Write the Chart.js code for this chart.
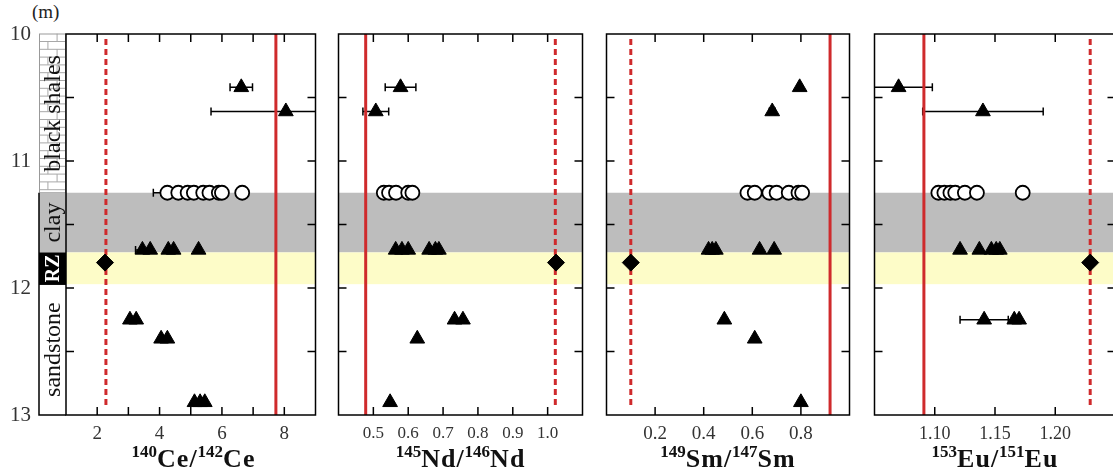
<!DOCTYPE html>
<html>
<head>
<meta charset="utf-8">
<script src="https://cdn.jsdelivr.net/npm/chart.js@4.4.1/dist/chart.umd.min.js"></script>
<style>
  body { margin: 0; background: #fff; }
  #wrap { position: relative; width: 1113px; height: 475px; overflow: hidden; background: #fff; }
  canvas { position: absolute; top: 0; }
  .xt { position: absolute; top: 446px; text-align: center; font: bold 26px "Liberation Serif", serif;
        color: #111; white-space: nowrap; line-height: 26px; letter-spacing: 1px; }
  .xt span { font-size: 17px; position: relative; top: -10px; letter-spacing: 0; }
  #unit { position: absolute; left: 32px; top: 1px; font-size: 19px; font-family: "Liberation Serif", serif; color: #222; }
</style>
</head>
<body>
<div id="wrap">
  <div id="unit">(m)</div>
  <canvas id="ce"></canvas>
  <canvas id="nd"></canvas>
  <canvas id="sm"></canvas>
  <canvas id="eu"></canvas>
  <div class="xt" id="t-ce"><span>140</span>Ce/<span>142</span>Ce</div>
  <div class="xt" id="t-nd"><span>145</span>Nd/<span>146</span>Nd</div>
  <div class="xt" id="t-sm"><span>149</span>Sm/<span>147</span>Sm</div>
  <div class="xt" id="t-eu"><span>153</span>Eu/<span>151</span>Eu</div>
</div>
<script>
const FONT = '"Liberation Serif", "Times New Roman", serif';

// lithology column, depth in m
const layerNames = ['black shales', 'clay', 'RZ', 'sandstone'];
const layerTop = [10, 11.25, 11.72, 11.97];
const layerBottom = [11.25, 11.72, 11.97, 13];
const depthLabelled = [10, 11, 12, 13];

// levels of the open circles (clay) and of the diamond (RZ)
const clayDepth = 11.25;
const rzDepth = 11.8;

// 140Ce/142Ce
const ceTriDepth = [10.42, 10.61, 11.7, 11.7, 11.7, 11.7, 11.7, 12.25, 12.25, 12.4, 12.4, 12.9, 12.9, 12.9];
const ceTriValue = [6.62, 8.05, 3.45, 3.7, 4.28, 4.45, 5.25, 3.05, 3.25, 4.05, 4.25, 5.12, 5.3, 5.45];
const ceTriErr = [0.36, 2.4, 0.22, 0, 0, 0, 0, 0, 0, 0, 0, 0, 0, 0];
const ceCircleValue = [4.25, 4.6, 4.9, 5.1, 5.4, 5.6, 5.9, 6.0, 6.65];
const ceCircleErr = [0.45, 0, 0, 0, 0, 0, 0, 0, 0];
const ceDiamond = 2.25;
const ceSolid = 7.73;
const ceDashed = 2.28;
const ceLabelled = [2, 4, 6, 8];

// 145Nd/146Nd
const ndTriDepth = [10.42, 10.61, 11.7, 11.7, 11.7, 11.7, 11.7, 11.7, 12.25, 12.25, 12.4, 12.9];
const ndTriValue = [0.578, 0.507, 0.564, 0.582, 0.6, 0.66, 0.678, 0.688, 0.733, 0.757, 0.626, 0.548];
const ndTriErr = [0.044, 0.037, 0, 0, 0, 0, 0, 0, 0, 0, 0, 0];
const ndCircleValue = [0.53, 0.545, 0.565, 0.6, 0.612];
const ndCircleErr = [0, 0, 0, 0, 0];
const ndDiamond = 1.024;
const ndSolid = 0.478;
const ndDashed = 1.022;
const ndLabelled = [0.5, 0.6, 0.7, 0.8, 0.9, 1.0];

// 149Sm/147Sm
const smTriDepth = [10.42, 10.61, 11.7, 11.7, 11.7, 11.7, 11.7, 12.25, 12.4, 12.9];
const smTriValue = [0.795, 0.682, 0.42, 0.435, 0.45, 0.63, 0.69, 0.485, 0.61, 0.8];
const smTriErr = [0, 0.012, 0, 0, 0, 0, 0, 0, 0, 0];
const smCircleValue = [0.58, 0.61, 0.67, 0.7, 0.75, 0.79, 0.805];
const smCircleErr = [0, 0, 0, 0, 0, 0, 0];
const smDiamond = 0.1;
const smSolid = 0.92;
const smDashed = 0.1;
const smLabelled = [0.2, 0.4, 0.6, 0.8];

// 153Eu/151Eu
const euTriDepth = [10.42, 10.61, 11.7, 11.7, 11.7, 11.7, 11.7, 12.25, 12.25, 12.25];
const euTriValue = [1.07, 1.14, 1.121, 1.137, 1.147, 1.151, 1.154, 1.141, 1.166, 1.17];
const euTriErr = [0.028, 0.05, 0, 0, 0, 0, 0, 0.02, 0, 0];
const euCircleValue = [1.103, 1.108, 1.113, 1.117, 1.125, 1.135, 1.173];
const euCircleErr = [0, 0, 0, 0, 0, 0, 0];
const euDiamond = 1.229;
const euSolid = 1.091;
const euDashed = 1.229;
const euLabelled = [1.10, 1.15, 1.20];

const RED = '#cf2a2c';
const TOP = 34, BOTTOM = 415, H = 475;

function near(a, b) { return Math.abs(a - b) < 1e-6; }

// evenly spaced values between min and max (for the small tick marks)
function stepValues(min, max, step) {
  const out = [];
  const n = Math.round((max - min) / step);
  for (let i = 0; i <= n; i++) out.push(Math.round((min + i * step) * 1e6) / 1e6);
  return out;
}

function drawColumn(ctx, y, x0, x1) {
  const w = x1 - x0;
  const py = d => y.getPixelForValue(d);
  ctx.save();
  // black shales: hatched
  let t = py(layerTop[0]), b = py(layerBottom[0]);
  ctx.fillStyle = '#fff';
  ctx.fillRect(x0, t, w, b - t);
  ctx.strokeStyle = '#a8a8a8';
  ctx.lineWidth = 1;
  let row = 0;
  for (let yy = t + 7.5; yy < b; yy += 7.8, row++) {
    ctx.beginPath(); ctx.moveTo(x0, yy); ctx.lineTo(x1, yy); ctx.stroke();
    const vx = row % 2 ? x0 + w * 0.33 : x0 + w * 0.67;
    ctx.beginPath(); ctx.moveTo(vx, yy - 7.8); ctx.lineTo(vx, yy); ctx.stroke();
  }
  ctx.strokeStyle = '#999';
  ctx.strokeRect(x0 + 0.5, t, w - 1, b - t);
  // clay
  t = py(layerTop[1]); b = py(layerBottom[1]);
  ctx.fillStyle = '#bdbdbd';
  ctx.fillRect(x0, t, w, b - t);
  // RZ
  t = py(layerTop[2]); b = py(layerBottom[2]);
  ctx.fillStyle = '#000';
  ctx.fillRect(x0, t, w, b - t);
  // sandstone
  t = py(layerTop[3]); b = py(layerBottom[3]);
  ctx.fillStyle = '#fff';
  ctx.fillRect(x0, t, w, b - t);
  // outline below shales
  ctx.strokeStyle = '#000';
  ctx.lineWidth = 1.5;
  ctx.beginPath();
  ctx.moveTo(x0, py(layerTop[1])); ctx.lineTo(x0, py(13)); ctx.lineTo(x1, py(13));
  ctx.stroke();
  ctx.beginPath();
  ctx.moveTo(x0, py(layerTop[3])); ctx.lineTo(x1, py(layerTop[3]));
  ctx.stroke();
  // labels
  layerNames.forEach((name, i) => {
    const cy = (py(layerTop[i]) + py(layerBottom[i])) / 2;
    ctx.save();
    ctx.translate(x0 + w / 2 + 1, cy);
    ctx.rotate(-Math.PI / 2);
    ctx.textAlign = 'center';
    ctx.textBaseline = 'middle';
    if (name === 'RZ') {
      ctx.fillStyle = '#fff';
      ctx.font = 'bold 20px ' + FONT;
    } else {
      ctx.fillStyle = '#111';
      ctx.font = '24px ' + FONT;
    }
    ctx.fillText(name, 0, 0);
    ctx.restore();
  });
  ctx.restore();
}

function makePanel(id, p) {
  const canvas = document.getElementById(id);
  const padL = p.first ? 0 : 4, padR = 4;
  const left = p.first ? 0 : p.left - 4;
  const width = p.right - left + padR;
  canvas.width = width;
  canvas.height = H;
  canvas.style.left = left + 'px';
  canvas.style.width = width + 'px';
  canvas.style.height = H + 'px';

  const title = document.getElementById('t-' + id);
  title.style.left = p.left + 'px';
  title.style.width = (p.right - p.left) + 'px';

  const tri = p.triValue.map((v, i) => ({ x: v, y: p.triDepth[i] }));
  const circ = p.circleValue.map(v => ({ x: v, y: clayDepth }));
  const errs = [];
  p.triValue.forEach((v, i) => { if (p.triErr[i] > 0) errs.push([v, p.triDepth[i], p.triErr[i]]); });
  p.circleValue.forEach((v, i) => { if (p.circleErr[i] > 0) errs.push([v, clayDepth, p.circleErr[i]]); });

  const deco = {
    id: 'deco',
    beforeDatasetsDraw(chart) {
      const { ctx, chartArea: a, scales: { x, y } } = chart;
      ctx.save();
      ctx.beginPath();
      ctx.rect(a.left, a.top, a.right - a.left, a.bottom - a.top);
      ctx.clip();
      // clay and RZ bands
      let t = y.getPixelForValue(layerTop[1]), b = y.getPixelForValue(layerBottom[1]);
      ctx.fillStyle = '#bdbdbd';
      ctx.fillRect(a.left, t, a.right - a.left, b - t);
      t = y.getPixelForValue(layerTop[2]); b = y.getPixelForValue(layerBottom[2]);
      ctx.fillStyle = '#fdfcc8';
      ctx.fillRect(a.left, t, a.right - a.left, b - t);
      // horizontal error bars
      ctx.strokeStyle = '#000';
      ctx.lineWidth = 1.5;
      errs.forEach(([v, d, e]) => {
        const x1 = x.getPixelForValue(v - e), x2 = x.getPixelForValue(v + e);
        const yy = y.getPixelForValue(d);
        ctx.beginPath();
        ctx.moveTo(x1, yy); ctx.lineTo(x2, yy);
        ctx.moveTo(x1, yy - 4); ctx.lineTo(x1, yy + 4);
        ctx.moveTo(x2, yy - 4); ctx.lineTo(x2, yy + 4);
        ctx.stroke();
      });
      ctx.restore();
    },
    afterDraw(chart) {
      const { ctx, chartArea: a, scales: { x, y } } = chart;
      if (p.first) drawColumn(ctx, y, a.left - 27, a.left);
      ctx.save();
      ctx.strokeStyle = '#000';
      ctx.lineWidth = 1.5;
      ctx.strokeRect(a.left, a.top, a.right - a.left, a.bottom - a.top);
      const tl = 8;
      ctx.beginPath();
      stepValues(p.min, p.max, p.step).forEach(v => {
        if (near(v, p.min) || near(v, p.max)) return;
        const px = x.getPixelForValue(v);
        ctx.moveTo(px, a.top); ctx.lineTo(px, a.top + tl);
        ctx.moveTo(px, a.bottom); ctx.lineTo(px, a.bottom - tl);
      });
      stepValues(10, 13, 0.5).forEach(v => {
        if (near(v, 10) || near(v, 13)) return;
        const py = y.getPixelForValue(v);
        ctx.moveTo(a.left, py); ctx.lineTo(a.left + tl, py);
        ctx.moveTo(a.right, py); ctx.lineTo(a.right - tl, py);
      });
      ctx.stroke();
      ctx.restore();
    }
  };

  new Chart(canvas, {
    type: 'scatter',
    data: {
      datasets: [
        { data: [{ x: p.diamond, y: rzDepth }], pointStyle: 'rectRot', pointRadius: 8.5,
          backgroundColor: '#000', borderColor: '#000', borderWidth: 1 },
        { data: circ, pointStyle: 'circle', pointRadius: 7, backgroundColor: '#fff',
          borderColor: '#000', borderWidth: 1.8 },
        { data: tri, pointStyle: 'triangle', pointRadius: 8.5, backgroundColor: '#000',
          borderColor: '#000', borderWidth: 1 },
        { data: [{ x: p.solid, y: 10 }, { x: p.solid, y: 13 }], showLine: true, pointRadius: 0,
          borderColor: RED, borderWidth: 3 },
        { data: [{ x: p.dashed, y: 10.04 }, { x: p.dashed, y: 12.94 }], showLine: true, pointRadius: 0,
          borderColor: RED, borderWidth: 3, borderDash: [6, 4] }
      ]
    },
    options: {
      responsive: false,
      animation: false,
      layout: { padding: { top: TOP, bottom: 0, left: padL, right: padR } },
      plugins: { legend: { display: false }, tooltip: { enabled: false } },
      scales: {
        x: {
          type: 'linear', min: p.min, max: p.max,
          grid: { display: false, drawTicks: false },
          border: { display: false },
          // labelled ticks only; the small tick marks are drawn by the deco plugin
          afterBuildTicks: s => { s.ticks = p.labelled.map(v => ({ value: v })); },
          afterFit: s => { s.height = H - BOTTOM; s.paddingLeft = 0; s.paddingRight = 0; },
          ticks: {
            autoSkip: false, maxRotation: 0, minRotation: 0, padding: 8,
            color: '#333', font: { family: FONT, size: p.fontSize },
            callback: v => Number(v).toFixed(p.dec)
          }
        },
        y: {
          type: 'linear', min: 10, max: 13, reverse: true,
          grid: { display: false, drawTicks: false },
          border: { display: false },
          afterBuildTicks: s => { s.ticks = depthLabelled.map(v => ({ value: v })); },
          afterFit: s => { s.width = p.first ? p.left : 0; s.paddingTop = 0; s.paddingBottom = 0; },
          ticks: {
            display: !!p.first, autoSkip: false, padding: 35,
            color: '#333', font: { family: FONT, size: 21 },
            callback: v => Number(v).toFixed(0)
          }
        }
      }
    },
    plugins: [deco]
  });
}

makePanel('ce', { first: true, left: 66, right: 321, min: 1, max: 9, step: 1, dec: 0, fontSize: 19,
  labelled: ceLabelled, triDepth: ceTriDepth, triValue: ceTriValue, triErr: ceTriErr,
  circleValue: ceCircleValue, circleErr: ceCircleErr, diamond: ceDiamond, solid: ceSolid, dashed: ceDashed });
makePanel('nd', { left: 333, right: 588, min: 0.4, max: 1.1, step: 0.1, dec: 1, fontSize: 17,
  labelled: ndLabelled, triDepth: ndTriDepth, triValue: ndTriValue, triErr: ndTriErr,
  circleValue: ndCircleValue, circleErr: ndCircleErr, diamond: ndDiamond, solid: ndSolid, dashed: ndDashed });
makePanel('sm', { left: 601, right: 855, min: 0, max: 1.0, step: 0.2, dec: 1, fontSize: 19,
  labelled: smLabelled, triDepth: smTriDepth, triValue: smTriValue, triErr: smTriErr,
  circleValue: smCircleValue, circleErr: smCircleErr, diamond: smDiamond, solid: smSolid, dashed: smDashed });
makePanel('eu', { left: 869, right: 1121, min: 1.05, max: 1.25, step: 0.05, dec: 2, fontSize: 18,
  labelled: euLabelled, triDepth: euTriDepth, triValue: euTriValue, triErr: euTriErr,
  circleValue: euCircleValue, circleErr: euCircleErr, diamond: euDiamond, solid: euSolid, dashed: euDashed });
</script>
</body>
</html>
